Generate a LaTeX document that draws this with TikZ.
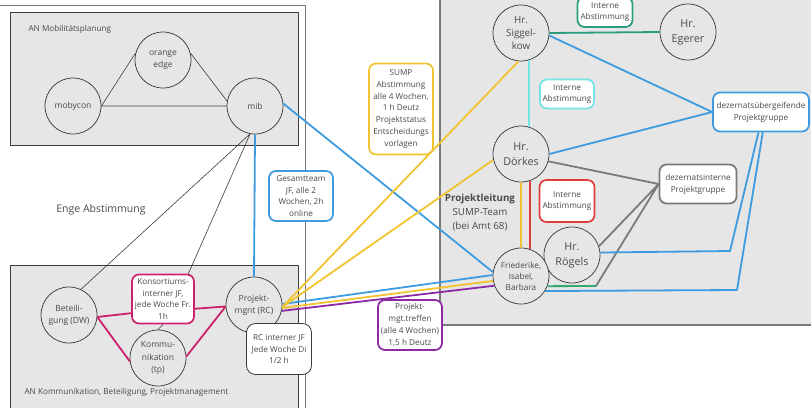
\documentclass[tikz,border=0pt]{standalone}
\usepackage{fontspec}
\setmainfont{Open Sans}
\definecolor{schrift}{HTML}{4A4A4A}
\definecolor{flaeche}{HTML}{E6E6E6}
\definecolor{rand}{HTML}{3C3C3C}
\definecolor{blau}{HTML}{3D9BE0}
\definecolor{gelb}{HTML}{F1C330}
\definecolor{himbeer}{HTML}{CC216C}
\definecolor{lila}{HTML}{8C2AA5}
\definecolor{petrol}{HTML}{2A9C80}
\definecolor{tuerkis}{HTML}{74E3E3}
\definecolor{rot}{HTML}{E23D3D}
\definecolor{grau}{HTML}{7A7A7A}
\definecolor{gruen}{HTML}{33A874}

\begin{document}
\begin{tikzpicture}[x = 1pt, y = -1pt, line join = round, every node/.style = {text = schrift, align = center, font = \fontsize{8.2}{11.8}\selectfont}, person/.style = {circle, draw = rand, line width = 0.75pt, fill = flaeche, minimum size = 56pt, inner sep = 0pt, font = \fontsize{8.5}{12.3}\selectfont}, herr/.style = {person, font = \fontsize{10.8}{15}\selectfont}, notiz/.style = {rectangle, rounded corners = 7pt, fill = white, line width = 1.7pt, inner xsep = 2pt, inner ysep = 2.5pt}, gruppe/.style = {draw = rand, line width = 0.8pt, fill = flaeche}, linie/.style = {line width = 1.8pt}, duenn/.style = {rand, line width = 0.6pt}]
    \useasboundingbox (0,0) rectangle (811,407);
    \draw[rand!70, line width = 0.9pt] (-5,5) rectangle (305,420);
    \draw[gruppe] (10,12) rectangle (298,145);
    \draw[gruppe] (10,265) rectangle (298,420);
    \draw[gruppe, draw = grau, line width = 1.2pt] (440,-5) rectangle (820,325);

    \node[anchor = west] (mobilitaet) at (25,29) {AN Mobilitätsplanung};
    \node[anchor = west] (kommlabel) at (21,392) {AN Kommunikation, Beteiligung, Projektmanagement};
    \node[font = \fontsize{10.5}{13}\selectfont] (enge) at (101,210) {Enge Abstimmung};
    \node[font = \fontsize{9.8}{14}\selectfont] (leitung) at (480,213) {\textbf{Projektleitung}\\SUMP-Team\\(bei Amt 68)};

    \node[person] (orange) at (163,60) {orange\\edge};
    \node[person] (mobycon) at (73,106) {mobycon};
    \node[person] (mib) at (255,106) {mib};
    \node[person] (beteiligung) at (69,315) {Beteili-\\gung (DW)};
    \node[person] (kommunikation) at (158,358) {Kommu-\\nikation\\(tp)};
    \node[person] (projektmgnt) at (254,305) {Projekt-\\mgnt (RC)};
    \node[person, font = \fontsize{9.8}{13}\selectfont] (siggelkow) at (521,33) {Hr.\\Siggel-\\kow};
    \node[herr] (egerer) at (688,32) {Hr.\\Egerer};
    \node[herr] (doerkes) at (521,154) {Hr.\\Dörkes};
    \node[herr] (roegels) at (572,255) {Hr.\\Rögels};
    \node[person, font = \fontsize{8.2}{11}\selectfont] (friederike) at (521,276) {Friederike,\\Isabel,\\Barbara};

    \node[notiz, draw = himbeer, minimum width = 62pt, minimum height = 49pt] (konsortium) at (163,299) {Konsortiums-\\interner JF,\\jede Woche Fr.\\1h};
    \node[notiz, draw = blau, minimum width = 64pt, minimum height = 50pt] (gesamtteam) at (301,196) {Gesamtteam\\JF, alle 2\\Wochen, 2h\\online};
    \node[notiz, draw = gelb, minimum width = 64pt, minimum height = 91pt] (sump) at (401,109) {SUMP\\Abstimmung\\alle 4 Wochen,\\1 h Deutz\\Projektstatus\\Entscheidungs\\vorlagen};
    \node[notiz, draw = rand, line width = 0.8pt, rounded corners = 9pt, minimum width = 65pt, minimum height = 51pt] (rcjf) at (279,349) {RC interner JF\\Jede Woche Di\\1/2 h};
    \node[notiz, draw = lila, minimum width = 64pt, minimum height = 50pt] (mgttreffen) at (410,325) {Projekt-\\mgt.treffen\\(alle 4 Wochen)\\1,5 h Deutz};
    \node[notiz, draw = petrol, minimum width = 55pt, minimum height = 30pt] (intern1) at (605,12) {Interne\\Abstimmung};
    \node[notiz, draw = tuerkis, minimum width = 54pt, minimum height = 29pt] (intern2) at (567,94) {Interne\\Abstimmung};
    \node[notiz, draw = rot, minimum width = 55pt, minimum height = 42pt] (intern3) at (567,201) {Interne\\Abstimmung};
    \node[notiz, draw = blau, minimum width = 96pt, minimum height = 39pt] (dezue) at (761,112) {dezernatsübergeifende\\Projektgruppe};
    \node[notiz, draw = grau, minimum width = 77pt, minimum height = 39pt] (dezin) at (698,184) {dezernatsinterne\\Projektgruppe};

    \coordinate (knick) at (596,286);
    \coordinate (eckeroegels) at (730,251);
    \coordinate (eckefried) at (737,290);

    \draw[duenn] (mobycon.east) -- (orange.166) (orange.14) -- (mib.170) (mobycon.east) -- (mib.west);
    \draw[duenn] (mib.-100) -- (beteiligung.65) (mib.-100) -- (konsortium.45) (konsortium.south) -- (kommunikation.north);
    \draw[himbeer, linie] (beteiligung.-4) -- (konsortium.204) (beteiligung.-4) -- (kommunikation.187) (konsortium.-17) -- (projektmgnt.183) (kommunikation.3) -- (projektmgnt.183);
    \draw[blau, linie] (mib.south) -- (projektmgnt.north) (mib.5) -- (friederike.172) (projektmgnt.2) -- (friederike.178);
    \draw[gelb, linie] (projektmgnt.-4) -- (siggelkow.-95) (projektmgnt.-4) -- (doerkes.192) (projektmgnt.-6) -- (friederike.190) (friederike.north) -- (doerkes.south);
    \draw[lila, linie] (projektmgnt.-12) -- (friederike.200);
    \draw[rot, linie] (friederike.71) -- (doerkes.-71);
    \draw[tuerkis, linie] (siggelkow.-73) -- (doerkes.73);
    \draw[petrol, linie] (siggelkow.east) -- (egerer.west);
    \draw[blau, linie] (siggelkow.-5) -- (dezue.west) (doerkes.east) -- (dezue.west);
    \draw[grau, linie] (doerkes.-15) -- (dezin.west) (roegels.18) -- (dezin.west) (knick) -- (dezin.west);
    \draw[gruen, linie] (friederike.-21) -- (knick);
    \draw[blau, linie] (dezue.-97) -- (eckeroegels) -- (roegels.5) (dezue.-85) -- (eckefried) -- (friederike.-32);
\end{tikzpicture}
\end{document}
